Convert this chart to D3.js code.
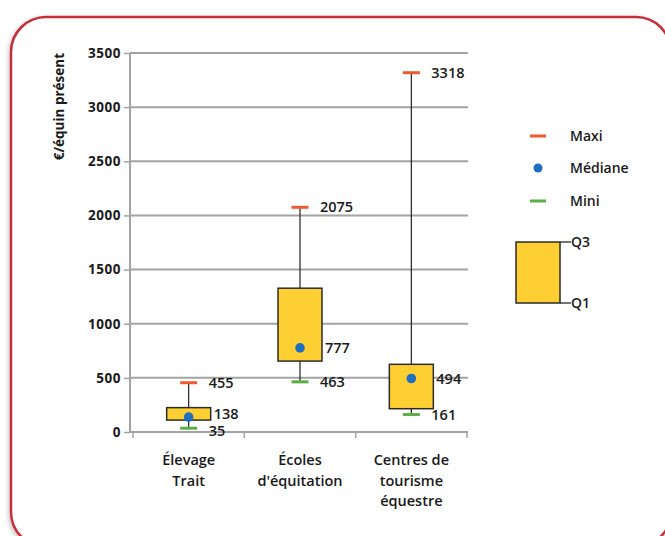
<!DOCTYPE html>
<html>
<head>
<meta charset="utf-8">
<script src="https://cdn.jsdelivr.net/npm/d3@7"></script>
<style>
  body { margin: 0; background: #fff; }
  svg { display: block; font-family: "Open Sans", sans-serif; }
</style>
</head>
<body>
<svg id="chart" width="665" height="536"></svg>
<script>
// data
const categories = [["Élevage", "Trait"], ["Écoles", "d'équitation"], ["Centres de", "tourisme", "équestre"]];
const maxi = [455, 2075, 3318];
const mediane = [138, 777, 494];
const mini = [35, 463, 161];
const q1 = [110, 655, 215];
const q3 = [225, 1328, 625];
const yTicks = [0, 500, 1000, 1500, 2000, 2500, 3000, 3500];
const legendItems = ["Maxi", "Médiane", "Mini"];

const colMax = "#ee5a2e", colMin = "#5aae45", colMed = "#1f6fc0", colBox = "#fecf33";

const buildVis = (svg_name) => {
    let chart = d3.select(svg_name);

    let defs = chart.append("defs");
    let f = defs.append("filter").attr("id", "shadow").attr("x", "-5%").attr("y", "-5%").attr("width", "110%").attr("height", "110%");
    f.append("feDropShadow").attr("dx", -1).attr("dy", 2).attr("stdDeviation", 2.5).attr("flood-color", "#000").attr("flood-opacity", 0.25);

    // frame
    chart.append("rect")
        .attr("x", 11).attr("y", 17).attr("width", 660).attr("height", 530)
        .attr("rx", 35).attr("ry", 35)
        .attr("fill", "#fff").attr("stroke", "#c62f3a").attr("stroke-width", 2.5)
        .attr("filter", "url(#shadow)");

    let keys = categories.map((c) => c.join(" "));
    let y = d3.scaleLinear().domain([0, 3500]).range([432, 53]);
    let x = d3.scaleBand().domain(keys).range([133, 467]);
    let axisX = 130;

    // gridlines
    chart.append("g").selectAll("line").data(yTicks.slice(1)).enter().append("line")
        .attr("x1", axisX).attr("x2", 468)
        .attr("y1", (d) => y(d)).attr("y2", (d) => y(d))
        .attr("stroke", "#a3a3a3").attr("stroke-width", 2);

    // y axis
    let y_axis = d3.axisLeft().scale(y).tickValues(yTicks).tickFormat(d3.format("d")).tickSize(6).tickPadding(3);
    let ga = chart.append("g").attr("transform", "translate(" + axisX + ",0)").call(y_axis);
    ga.select(".domain").attr("stroke", "#a3a3a3").attr("stroke-width", 2).attr("d", "M0," + y(3500) + "V" + y(0));
    ga.selectAll(".tick line").attr("stroke", "#a3a3a3").attr("stroke-width", 1.5);
    ga.selectAll(".tick text").attr("fill", "#1a1a1a").style("font-size", "13.5px").style("font-weight", "700")
        .style("font-family", "'Open Sans', sans-serif").style("letter-spacing", "0.5px");

    // x axis line + ticks at band edges
    chart.append("line").attr("x1", axisX).attr("x2", 468).attr("y1", y(0)).attr("y2", y(0))
        .attr("stroke", "#a3a3a3").attr("stroke-width", 2);
    let edges = keys.map((k) => x(k) + x.bandwidth()).concat([x(keys[0])]);
    chart.append("g").selectAll("line").data(edges).enter().append("line")
        .attr("x1", (d) => d).attr("x2", (d) => d)
        .attr("y1", y(0)).attr("y2", y(0) + 6)
        .attr("stroke", "#a3a3a3").attr("stroke-width", 1.5);

    // category labels
    let cl = chart.append("g").selectAll("text").data(categories).enter().append("text")
        .attr("x", (d, i) => x(keys[i]) + x.bandwidth() / 2)
        .attr("y", 465)
        .attr("text-anchor", "middle").attr("fill", "#1a1a1a")
        .style("font-size", "14.5px").style("font-weight", "600");
    cl.selectAll("tspan").data((d) => d).enter().append("tspan")
        .attr("x", function () { return d3.select(this.parentNode).attr("x"); })
        .attr("dy", (d, j) => j === 0 ? 0 : 20.5)
        .text((d) => d);

    // y title
    chart.append("text")
        .attr("transform", "translate(64," + y(3500) + ") rotate(-90)")
        .attr("text-anchor", "end")
        .attr("fill", "#1a1a1a")
        .style("font-size", "13.5px").style("font-weight", "700")
        .text("€/équin présent");

    let boxW = 44, capW = 17;
    let cx = (i) => x(keys[i]) + x.bandwidth() / 2;
    let idx = d3.range(keys.length);

    // whiskers
    chart.append("g").selectAll("line").data(idx).enter().append("line")
        .attr("x1", cx).attr("x2", cx)
        .attr("y1", (i) => y(maxi[i])).attr("y2", (i) => y(mini[i]))
        .attr("stroke", "#222").attr("stroke-width", 1.2);

    // boxes
    chart.append("g").selectAll("rect").data(idx).enter().append("rect")
        .attr("x", (i) => cx(i) - boxW / 2)
        .attr("y", (i) => y(q3[i]))
        .attr("width", boxW)
        .attr("height", (i) => y(q1[i]) - y(q3[i]))
        .attr("fill", colBox).attr("stroke", "#2b2b2b").attr("stroke-width", 1.5);

    // caps
    chart.append("g").selectAll("line").data(idx).enter().append("line")
        .attr("x1", (i) => cx(i) - capW / 2).attr("x2", (i) => cx(i) + capW / 2)
        .attr("y1", (i) => y(maxi[i])).attr("y2", (i) => y(maxi[i]))
        .attr("stroke", colMax).attr("stroke-width", 3);
    chart.append("g").selectAll("line").data(idx).enter().append("line")
        .attr("x1", (i) => cx(i) - capW / 2).attr("x2", (i) => cx(i) + capW / 2)
        .attr("y1", (i) => y(mini[i])).attr("y2", (i) => y(mini[i]))
        .attr("stroke", colMin).attr("stroke-width", 3);

    // medians
    chart.append("g").selectAll("circle").data(idx).enter().append("circle")
        .attr("cx", cx).attr("cy", (i) => y(mediane[i])).attr("r", 4.8)
        .attr("fill", colMed);

    // value labels, nudged apart when median and mini collide
    let lbl = chart.append("g").attr("fill", "#1a1a1a").style("font-size", "14.5px").style("font-weight", "600");
    idx.forEach((i) => {
        let yMed = y(mediane[i]), yMin = y(mini[i]);
        let gap = yMin - yMed;
        if (gap < 17) {
            let s = (17 - gap) / 2;
            yMed -= s; yMin += s;
        }
        lbl.append("text").attr("x", cx(i) + 20).attr("y", y(maxi[i])).attr("dy", "0.35em").text(maxi[i]);
        lbl.append("text").attr("x", cx(i) + 25).attr("y", yMed).attr("dy", "0.35em").text(mediane[i]);
        lbl.append("text").attr("x", cx(i) + 20).attr("y", yMin).attr("dy", "0.35em").text(mini[i]);
    });

    // legend
    let lg = chart.append("g");
    let ly = [136, 168, 201];
    lg.append("line").attr("x1", 530).attr("x2", 546).attr("y1", ly[0]).attr("y2", ly[0]).attr("stroke", colMax).attr("stroke-width", 3);
    lg.append("circle").attr("cx", 538).attr("cy", ly[1]).attr("r", 4.5).attr("fill", colMed);
    lg.append("line").attr("x1", 530).attr("x2", 546).attr("y1", ly[2]).attr("y2", ly[2]).attr("stroke", colMin).attr("stroke-width", 3);
    lg.selectAll("text.item").data(legendItems).enter().append("text")
        .attr("class", "item")
        .attr("x", 570).attr("y", (d, i) => ly[i]).attr("dy", "0.35em")
        .attr("fill", "#1a1a1a").style("font-size", "14px").style("font-weight", "600")
        .text((d) => d);

    lg.append("rect").attr("x", 516).attr("y", 242).attr("width", 44).attr("height", 61)
        .attr("fill", colBox).attr("stroke", "#2b2b2b").attr("stroke-width", 1.5);
    [[242, "Q3"], [303, "Q1"]].forEach((q) => {
        lg.append("line").attr("x1", 560).attr("x2", 571).attr("y1", q[0]).attr("y2", q[0]).attr("stroke", "#2b2b2b").attr("stroke-width", 1.3);
        lg.append("text").attr("x", 571).attr("y", q[0]).attr("dy", "0.35em")
            .attr("fill", "#1a1a1a").style("font-size", "14px").style("font-weight", "600").text(q[1]);
    });
}

buildVis("#chart");
</script>
</body>
</html>
